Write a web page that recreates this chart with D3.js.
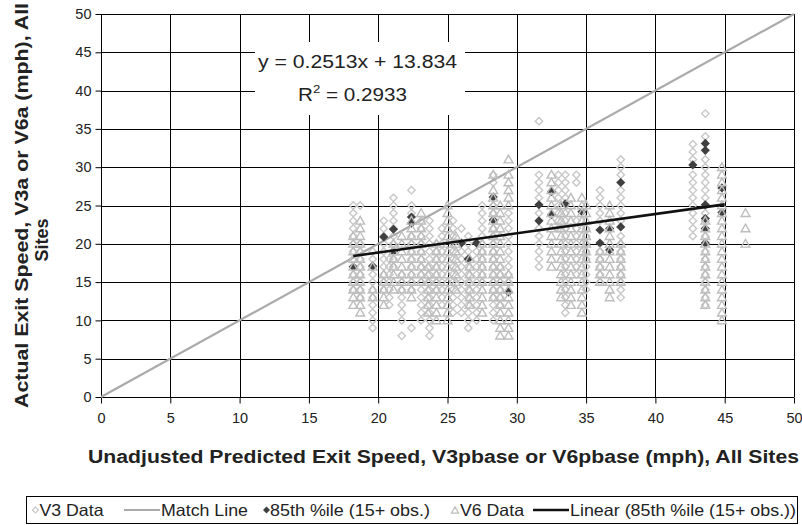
<!DOCTYPE html>
<html><head><meta charset="utf-8">
<script src="https://cdn.jsdelivr.net/npm/d3@7"></script>
<style>
body{margin:0;background:#fff;}
svg{display:block;font-family:"Liberation Sans",Arial,sans-serif;}
</style></head>
<body><svg id="c" width="802" height="525"></svg>
<script>
// ---------- data ----------
const xTicks = [0,5,10,15,20,25,30,35,40,45,50];
const yTicks = [0,5,10,15,20,25,30,35,40,45,50];
// V3 data (diamonds): columns [predicted, [actual speeds]]
const v3Columns = [
  [18.2,[14,15,16,17,18,19,20,21,22,23,24,25]],
  [18.7,[25,13,14,15,16,17,18,19,20]],
  [19.6,[9,10,11,12,13,14,15,16,17,18,19]],
  [20.4,[14,15,16,17,18,19,20,21,22,23]],
  [20.8,[12,13,14,15,16,17,18]],
  [21.1,[17,18,19,20,21,22,23,24,25,26]],
  [21.7,[8,10,11,12,13,14,15,16]],
  [22.4,[9,14,15,16,17,18,19,20,21,24,25,27]],
  [23.1,[10,11,12,13,14,15,16,17,18,19,20,21,22,23]],
  [23.7,[8,9,10,11,12,13,14,15,16,17,18,19,20,21,22,23]],
  [24.2,[14,15,16,17,18,19,20]],
  [24.6,[12,13,14,15,16,17,18,19,20,21,22]],
  [25.4,[11,12,13,14,15,16,17,18,19,20,21,22,23]],
  [26.0,[11,12,13,14,15,16,17,18,19,22]],
  [26.5,[9,10,11,12,13,14,15,16,17,19,20,21]],
  [27.1,[10,11,12,13,14,15,16,17,18,19]],
  [27.5,[15,16,17,18,19,20,21,22,23,24,25]],
  [28.3,[10,11,12,13,14,15,16,17,18,19,20,21,22,24,25,28,29]],
  [28.8,[12,13,14,15,16,17]],
  [29.4,[15,16,17,18,19,20,21,22,23,24]],
  [31.6,[17,18,19,20,21,22,24,26,27,28,29,36]],
  [33.0,[22,23,24,25,26,27,28,29]],
  [33.5,[11,12,13,14,15,16,17,18,19,20,21,22,23,24,26,27,28,29]],
  [34.3,[16,17,18,19,20,21,22,23,28,29]],
  [35.0,[14,15,16,17,18,19,20,21,22]],
  [36.0,[15,16,17,18,19,23,24,25,26,27]],
  [37.5,[13,14,15,16,17,18,19,20,21,23,24,25,26,27,29,30,31]],
  [42.7,[21,22,23,24,25,26,27,28,29,31,32,33]],
  [43.6,[12,13,14,15,16,17,18,19,20,21,22,23,24,25,26,27,28,29,30,31,34,37]]
];
// V6 data (triangles)
const v6Columns = [
  [18.2,[12,13,14,15,16,17,18,19,20,21]],
  [18.7,[11,12,13,14,15,16,17,18,19,20,21,22,23]],
  [19.6,[13,14,17]],
  [20.4,[12,13,14,15,16]],
  [21.1,[14,15,16,17,18,19,20]],
  [21.7,[14,15,16,17,18,19,20,21]],
  [22.4,[13,14,15,16,17,18,19,20,21,22,23]],
  [23.1,[15,16,17,18,19,20,21,22,23,24]],
  [23.6,[11,12,13,14,15,16,17]],
  [24.2,[10,11,12,13,14,15,16,17,18,19,20]],
  [25.0,[10,11,12,13,14,15,16,17,18,19,20,21,22,23,24,25]],
  [25.6,[14,15,16,17,18,19,20,21]],
  [26.6,[12,13,14,15,16,17,18]],
  [27.5,[11,12,13,14,15,16,17,18,19,20]],
  [28.3,[13,14,15,16,17,18,19,20,21,22,23,24,25,26,27,29]],
  [28.8,[8,9,10,11,12,13,14,15,16,17,18,19,20,21,22,23,24,25]],
  [29.4,[8,9,10,11,12,13,14,15,16,25,26,27,28,29,31]],
  [32.5,[17,18,19,20,21,22,23,24,25,26,27,28,29]],
  [33.2,[13,14,15,16,17,18,19,20,21,22,23,24,25]],
  [33.9,[12,13,14,15,16,17,18,19,20,21,22,23,24,25,26]],
  [34.7,[11,12,13,14,15,16,17,18,19,20,21,22,23,24,25,26]],
  [35.0,[18,19,20,21,22,23,24,25]],
  [36.0,[15,16,17,18,19]],
  [36.7,[13,14,15,16,17,18,19,20,21,22,23,24,25]],
  [37.5,[15,16,17,18,19,20]],
  [43.6,[12,13,14,15,16,17,18,19,20,21,22,23]],
  [44.8,[10,11,12,13,14,15,16,17,18,19,20,21,22,23,24,25,26,27,28,29,30]],
  [46.5,[20,22,24]]
];
// 85th percentile (15+ obs.)
const p85 = [
  [18.2,17.0],[19.6,17.1],[20.4,20.9],[21.1,21.9],[21.1,19.0],[22.4,23.5],[22.4,22.7],
  [26.0,20.1],[26.5,18.0],[27.1,20.1],[28.3,26.1],[28.3,23.1],[29.4,13.7],[31.6,25.1],
  [31.6,23.0],[32.5,26.8],[32.5,23.8],[33.5,25.2],[34.7,24.2],[36.0,21.8],[36.0,20.1],
  [36.7,22.0],[36.7,19.2],[37.5,28.0],[37.5,22.2],[42.7,30.3],[43.6,33.1],[43.6,32.2],
  [43.6,25.1],[43.6,23.3],[43.6,22.0],[43.6,20.1],[44.8,27.3],[44.8,24.1]
];
const matchLine = [[0,0],[50,50]];
const trendSlope = 0.2513, trendIntercept = 13.834;
const trendRange = [18.2, 45.0];
const eqText = "y = 0.2513x + 13.834";
const r2Value = "0.2933";
const xTitle = "Unadjusted Predicted Exit Speed, V3pbase or V6pbase (mph), All Sites";
const yTitle = ["Actual Exit Speed, V3a or V6a (mph), All", "Sites"];
const legendItems = ["V3 Data","Match Line","85th %ile (15+ obs.)","V6 Data","Linear (85th %ile (15+ obs.))"];

// ---------- chart ----------
const svg = d3.select("#c");
const L=101, R=794, T=14, B=397;
const x = d3.scaleLinear().domain([0,50]).range([L,R]);
const y = d3.scaleLinear().domain([0,50]).range([B,T]);

const grid = svg.append("g");
grid.selectAll("line.h").data(yTicks).join("line")
  .attr("x1",L).attr("x2",R).attr("y1",d=>Math.round(y(d))+0.5).attr("y2",d=>Math.round(y(d))+0.5)
  .attr("stroke","#000").attr("stroke-width",1);
grid.selectAll("line.v").data(xTicks).join("line")
  .attr("y1",T).attr("y2",B).attr("x1",d=>Math.round(x(d))+0.5).attr("x2",d=>Math.round(x(d))+0.5)
  .attr("stroke","#000").attr("stroke-width",1);

const xAxis = svg.append("g").attr("transform",`translate(0,${Math.round(y(0))+0.5})`)
  .call(d3.axisBottom(x).tickValues(xTicks).tickSize(6).tickPadding(9).tickFormat(d3.format("d")));
const yAxis = svg.append("g").attr("transform",`translate(${Math.round(x(0))+0.5},0)`)
  .call(d3.axisLeft(y).tickValues(yTicks).tickSize(6).tickPadding(4).tickFormat(d3.format("d")));
[xAxis,yAxis].forEach(a=>{
  a.selectAll("path").remove();
  a.selectAll("text").attr("font-size",14.5).attr("fill","#222").attr("font-family","Liberation Sans, Arial, sans-serif");
  a.selectAll(".tick line").attr("stroke","#000");
});

// white box behind equation
svg.append("rect").attr("x",255).attr("y",42).attr("width",210).attr("height",73).attr("fill","#fff");

const diamond = (cx,cy,r)=>`M${cx},${cy-r}L${cx+r},${cy}L${cx},${cy+r}L${cx-r},${cy}Z`;
const tri = (cx,cy,r)=>`M${cx},${cy-r}L${cx+r},${cy+r*0.75}L${cx-r},${cy+r*0.75}Z`;

const v3Pts = v3Columns.flatMap(([px,ys])=>ys.map(v=>[px,v]));
const v6Pts = v6Columns.flatMap(([px,ys])=>ys.map(v=>[px,v]));

svg.append("g").selectAll("path").data(v3Pts).join("path")
  .attr("d",d=>diamond(x(d[0]),y(d[1]),3.7)).attr("fill","none")
  .attr("stroke","#c8c8c8").attr("stroke-width",1.4);

const line = d3.line().x(d=>x(d[0])).y(d=>y(d[1]));
svg.append("path").datum(matchLine).attr("d",line).attr("stroke","#aaa").attr("stroke-width",2.2).attr("fill","none");

svg.append("g").selectAll("path").data(p85).join("path")
  .attr("d",d=>diamond(x(d[0]),y(d[1]),4.6)).attr("fill","#404040").attr("stroke","none");

svg.append("g").selectAll("path").data(v6Pts).join("path")
  .attr("d",d=>tri(x(d[0]),y(d[1]),4.4)).attr("fill","none")
  .attr("stroke","#bdbdbd").attr("stroke-width",1.4);

const trend = trendRange.map(v=>[v, trendSlope*v+trendIntercept]);
svg.append("path").datum(trend).attr("d",line).attr("stroke","#111").attr("stroke-width",2.6).attr("fill","none");

// equation
const eq = svg.append("g").attr("font-size",18).attr("fill","#222");
eq.append("text").attr("x",258).attr("y",68).attr("textLength",199).attr("lengthAdjust","spacingAndGlyphs").text(eqText);
const r2 = eq.append("text").attr("x",298).attr("y",101).attr("textLength",109).attr("lengthAdjust","spacingAndGlyphs");
r2.append("tspan").text("R");
r2.append("tspan").attr("dy",-8).attr("font-size",11.5).text("2");
r2.append("tspan").attr("dy",8).text(" = "+r2Value);

// axis titles
svg.append("text").attr("x",88).attr("y",463)
  .attr("font-weight","bold").attr("font-size",18).attr("fill","#222")
  .attr("textLength",711).attr("lengthAdjust","spacingAndGlyphs").text(xTitle);
svg.append("text").attr("transform","translate(28,408) rotate(-90)")
  .attr("font-weight","bold").attr("font-size",18).attr("fill","#222")
  .attr("textLength",405).attr("lengthAdjust","spacingAndGlyphs").text(yTitle[0]);
svg.append("text").attr("transform","translate(48,240) rotate(-90)").attr("text-anchor","middle")
  .attr("font-weight","bold").attr("font-size",18).attr("fill","#222").text(yTitle[1]);

// legend
const lg = svg.append("g").attr("font-size",16.5).attr("fill","#222");
lg.append("rect").attr("x",26.5).attr("y",496.5).attr("width",771).attr("height",27).attr("fill","#fff").attr("stroke","#000");
const ly = 510, tb = 516;
lg.append("path").attr("d",diamond(35.5,ly,3)).attr("fill","none").attr("stroke","#c8c8c8").attr("stroke-width",1.2);
lg.append("text").attr("x",39.5).attr("y",tb).attr("textLength",64).attr("lengthAdjust","spacingAndGlyphs").text(legendItems[0]);
lg.append("line").attr("x1",124).attr("x2",160).attr("y1",ly).attr("y2",ly).attr("stroke","#aaa").attr("stroke-width",2.2);
lg.append("text").attr("x",161).attr("y",tb).attr("textLength",87).attr("lengthAdjust","spacingAndGlyphs").text(legendItems[1]);
lg.append("path").attr("d",diamond(266.5,ly,3.5)).attr("fill","#404040");
lg.append("text").attr("x",270).attr("y",tb).attr("textLength",160).attr("lengthAdjust","spacingAndGlyphs").text(legendItems[2]);
lg.append("path").attr("d",tri(455,ly+0.5,3.6)).attr("fill","none").attr("stroke","#bdbdbd").attr("stroke-width",1.2);
lg.append("text").attr("x",460).attr("y",tb).attr("textLength",64).attr("lengthAdjust","spacingAndGlyphs").text(legendItems[3]);
lg.append("line").attr("x1",533).attr("x2",569).attr("y1",ly).attr("y2",ly).attr("stroke","#111").attr("stroke-width",2.6);
lg.append("text").attr("x",570).attr("y",tb).attr("textLength",226).attr("lengthAdjust","spacingAndGlyphs").text(legendItems[4]);
</script></body></html>
